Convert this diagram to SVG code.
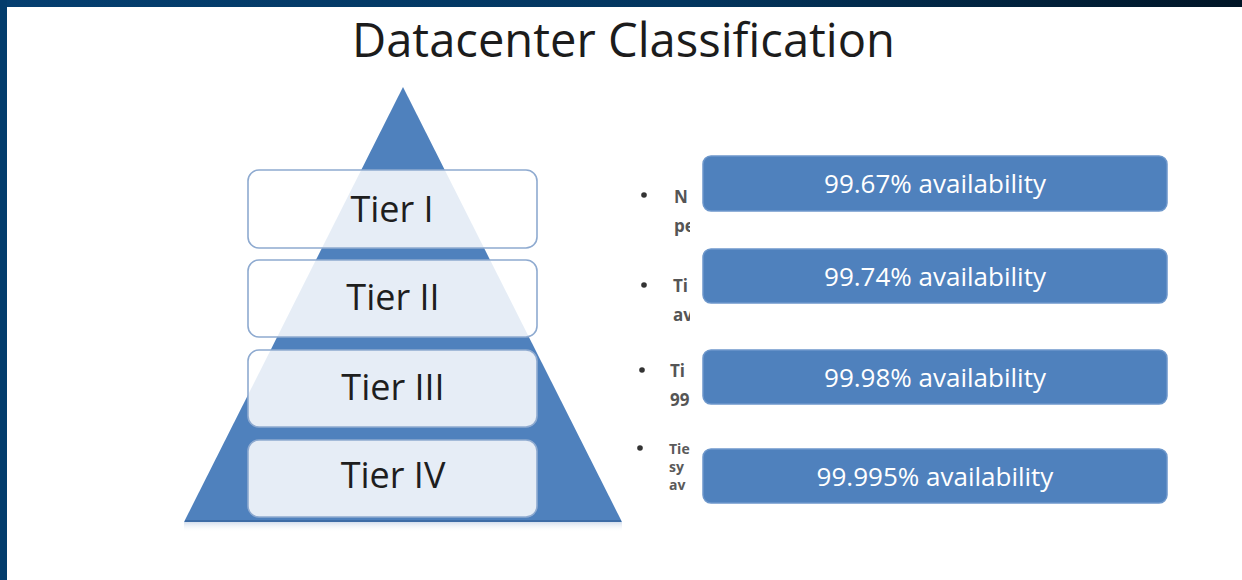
<svg xmlns="http://www.w3.org/2000/svg" width="1242" height="580" viewBox="0 0 1242 580">
  <defs>
    <linearGradient id="topbar" x1="0" y1="0" x2="1" y2="0">
      <stop offset="0" stop-color="#053f70"/>
      <stop offset="0.55" stop-color="#03365f"/>
      <stop offset="1" stop-color="#001526"/>
    </linearGradient>
    <linearGradient id="baseShadow" x1="0" y1="0" x2="0" y2="1">
      <stop offset="0" stop-color="#c9d6e8" stop-opacity="0.8"/>
      <stop offset="1" stop-color="#ffffff" stop-opacity="0"/>
    </linearGradient>
    <clipPath id="bulletClip">
      <rect x="600" y="150" width="90" height="370"/>
    </clipPath>
    <style>
      .title { font-family: "Open Sans", "Liberation Sans", sans-serif; font-size: 48px; fill: #1c1c1c; }
      .tierBox { fill: #ffffff; fill-opacity: 0.86; stroke: #8eaad0; stroke-width: 1.6; }
      .tierText { font-family: "Open Sans", "Liberation Sans", sans-serif; font-size: 36px; fill: #1e1e1e; text-anchor: middle; }
      .availBox { fill: #4f81bd; stroke: #6d97cb; stroke-width: 1.5; }
      .availText { font-family: "Open Sans", "Liberation Sans", sans-serif; font-size: 26px; fill: #ffffff; text-anchor: middle; }
      .bulletText { font-family: "Open Sans", "Liberation Sans", sans-serif; font-size: 17px; font-weight: bold; fill: #555555; }
      .bulletSmall { font-family: "Open Sans", "Liberation Sans", sans-serif; font-size: 14px; font-weight: bold; fill: #5a5a5a; }
      .dot { fill: #333333; }
    </style>
  </defs>

  <!-- background and frame -->
  <rect x="0" y="0" width="1242" height="580" fill="#ffffff"/>
  <rect x="0" y="0" width="1242" height="7" fill="url(#topbar)"/>
  <rect x="0" y="0" width="7" height="580" fill="#033c6c"/>

  <!-- title -->
  <text class="title" x="352" y="57" textLength="543" lengthAdjust="spacingAndGlyphs">Datacenter Classification</text>

  <!-- pyramid -->
  <g id="pyramid">
    <rect x="184" y="522" width="438" height="10" fill="url(#baseShadow)"/>
    <polygon points="403,87 622,522 184,522" fill="#4f81bd"/>
    <line x1="185" y1="521" x2="621" y2="521" stroke="#3d6ca6" stroke-width="2"/>
  </g>

  <g id="tier1">
    <rect class="tierBox" x="248" y="170" width="289" height="78" rx="11"/>
    <text class="tierText" x="392" y="222">Tier I</text>
  </g>
  <g id="tier2">
    <rect class="tierBox" x="248" y="260" width="289" height="77" rx="11"/>
    <text class="tierText" x="393" y="310">Tier II</text>
  </g>
  <g id="tier3">
    <rect class="tierBox" x="248" y="350" width="289" height="77" rx="11"/>
    <text class="tierText" x="393" y="400">Tier III</text>
  </g>
  <g id="tier4">
    <rect class="tierBox" x="248" y="440" width="289" height="77" rx="11"/>
    <text class="tierText" x="393" y="488">Tier IV</text>
  </g>

  <!-- partially hidden bullet fragments -->
  <g id="bullets" clip-path="url(#bulletClip)">
    <circle class="dot" cx="644" cy="195" r="2.8"/>
    <text class="bulletText" x="674" y="203">N</text>
    <text class="bulletText" x="674" y="232">pe</text>
    <circle class="dot" cx="644" cy="285" r="2.8"/>
    <text class="bulletText" x="673" y="292">Ti</text>
    <text class="bulletText" x="673" y="321">av</text>
    <circle class="dot" cx="642" cy="370" r="2.8"/>
    <text class="bulletText" x="670" y="377">Ti</text>
    <text class="bulletText" x="670" y="406">99</text>
    <circle class="dot" cx="640" cy="448" r="2.8"/>
    <text class="bulletSmall" x="669" y="454">Tie</text>
    <text class="bulletSmall" x="669" y="472">sy</text>
    <text class="bulletSmall" x="669" y="490">av</text>
  </g>

  <g id="connectors"></g>

  <!-- availability boxes -->
  <g id="avail1">
    <rect class="availBox" x="703" y="156" width="464" height="55" rx="8"/>
    <text class="availText" x="935" y="193">99.67% availability</text>
  </g>
  <g id="avail2">
    <rect class="availBox" x="703" y="249" width="464" height="54" rx="8"/>
    <text class="availText" x="935" y="286">99.74% availability</text>
  </g>
  <g id="avail3">
    <rect class="availBox" x="703" y="350" width="464" height="54" rx="8"/>
    <text class="availText" x="935" y="387">99.98% availability</text>
  </g>
  <g id="avail4">
    <rect class="availBox" x="703" y="449" width="464" height="54" rx="8"/>
    <text class="availText" x="935" y="486">99.995% availability</text>
  </g>
</svg>
